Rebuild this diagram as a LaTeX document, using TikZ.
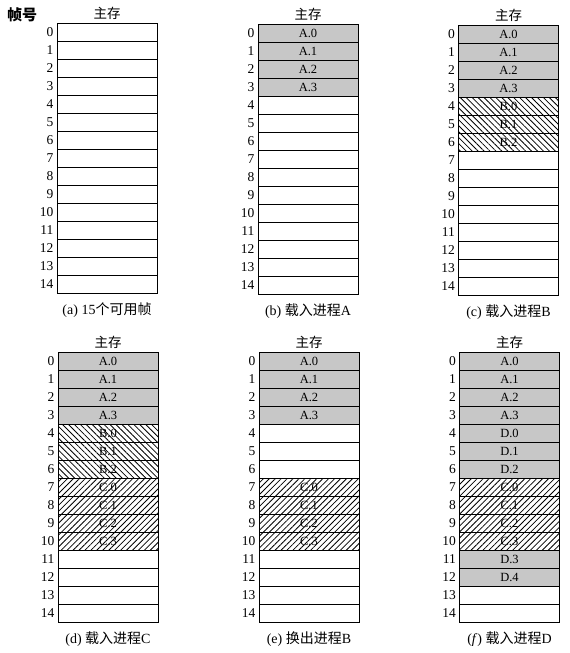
\documentclass[tikz,border=0pt]{standalone}
\usepackage{fontspec}
\setmainfont{Liberation Serif}
\newfontfamily\cjk{Noto Sans CJK SC}
\usetikzlibrary{patterns.meta}

\tikzset{
  cell/.style={draw, line width=0.8pt, minimum width=100pt, minimum height=18pt,
    inner sep=0pt, font=\fontsize{12.5}{14}\selectfont},
  procA/.style={fill=black!22},
  procB/.style={pattern={Lines[angle=-45,distance=4.2pt,line width=0.8pt]}},
  procC/.style={pattern={Lines[angle=45,distance=4.2pt,line width=0.8pt]}},
  num/.style={anchor=east, inner sep=3pt, font=\fontsize{13.5}{15}\selectfont},
  head/.style={above, inner sep=2.5pt, font=\cjk\fontsize{13.5}{15}\selectfont},
  caption/.style={below=9pt, inner sep=0pt, font=\fontsize{14}{16}\selectfont},
}

% one column of 15 frames: id, centre x, top y, caption
\newcommand{\memcol}[4]{%
  \foreach \i in {0,...,14}
    \node[cell] (#1-\i) at (#2, #3+9+18*\i) {};
  \foreach \i in {0,...,14}
    \node[num] (#1-n\i) at (#1-\i.west) {\i};
  \node[head] (#1-head) at (#1-0.north) {主存};
  \node[caption] (#1-cap) at (#1-14.south) {#4};
}

\begin{document}
\begin{tikzpicture}[x=1pt, y=-1pt]
    \useasboundingbox (0,0) rectangle (570,653);

    % Frame numbers
    \node[font=\cjk\bfseries\fontsize{15}{17}\selectfont] (framehdr) at (22,15) {帧号};

    % (a) free frames
    \memcol{a}{107}{23}{(a) 15{\cjk 个可用帧}}

    % (b) load A
    \memcol{b}{308}{24}{(b) {\cjk 载入进程}A}
    \foreach \i in {0,...,3}
      \node[cell,procA] (b-A\i) at (b-\i) {A.\i};

    % (c) load B
    \memcol{c}{508.5}{25}{(c) {\cjk 载入进程}B}
    \foreach \i in {0,...,3}
      \node[cell,procA] (c-A\i) at (c-\i) {A.\i};
    \foreach \i [evaluate=\i as \j using int(\i+4)] in {0,...,2}
      \node[cell,procB] (c-B\i) at (c-\j) {B.\i};

    % (d) load C
    \memcol{d}{108}{352}{(d) {\cjk 载入进程}C}
    \foreach \i in {0,...,3}
      \node[cell,procA] (d-A\i) at (d-\i) {A.\i};
    \foreach \i [evaluate=\i as \j using int(\i+4)] in {0,...,2}
      \node[cell,procB] (d-B\i) at (d-\j) {B.\i};
    \foreach \i [evaluate=\i as \j using int(\i+7)] in {0,...,3}
      \node[cell,procC] (d-C\i) at (d-\j) {C.\i};

    % (e) swap out B
    \memcol{e}{309}{352}{(e) {\cjk 换出进程}B}
    \foreach \i in {0,...,3}
      \node[cell,procA] (e-A\i) at (e-\i) {A.\i};
    \foreach \i [evaluate=\i as \j using int(\i+7)] in {0,...,3}
      \node[cell,procC] (e-C\i) at (e-\j) {C.\i};

    % (f) load D
    \memcol{f}{509.5}{352}{(\textit{f}) {\cjk 载入进程}D}
    \foreach \i in {0,...,3}
      \node[cell,procA] (f-A\i) at (f-\i) {A.\i};
    \foreach \i [evaluate=\i as \j using int(\i+4)] in {0,...,2}
      \node[cell,procA] (f-D\i) at (f-\j) {D.\i};
    \foreach \i [evaluate=\i as \j using int(\i+7)] in {0,...,3}
      \node[cell,procC] (f-C\i) at (f-\j) {C.\i};
    \foreach \i [evaluate=\i as \j using int(\i+8)] in {3,4}
      \node[cell,procA] (f-D\i) at (f-\j) {D.\i};

\end{tikzpicture}
\end{document}
